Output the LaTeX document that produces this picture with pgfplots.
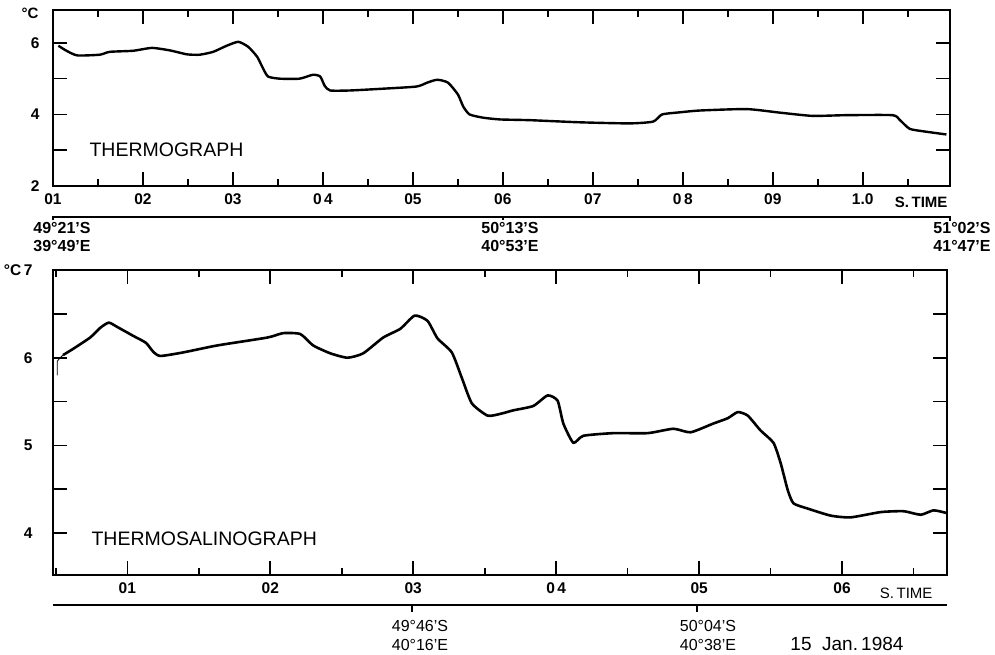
\documentclass[border=0pt]{standalone}
\usepackage{fontspec}
\setmainfont{Liberation Sans}
\usepackage{pgfplots}
\pgfplotsset{compat=1.18}
\pgfplotsset{
  rec/.style={
    scale only axis,
    axis line style={line width=1.7pt, black},
    tick align=inside,
    major tick length=14pt, minor tick length=7pt,
    every tick/.style={line width=1.6pt, black},
    /pgf/number format/assume math mode=true,
    xticklabel style={font=\fontsize{15.5}{17}\selectfont\bfseries, yshift=-4pt},
    yticklabel style={font=\fontsize{15.5}{17}\selectfont\bfseries, xshift=-10pt},
    xtick pos=both, ytick pos=both,
  }
}
\begin{document}
\begin{tikzpicture}[x=1pt,y=1pt]
\useasboundingbox (0,0) rectangle (995,655);
% ---------------- top: thermograph ----------------
\begin{axis}[rec,
  at={(53pt,469pt)}, anchor=south west,
  width=897pt, height=176pt,
  xmin=1, xmax=10.97, ymin=2, ymax=6.92,
  xtick={1,...,10},
  xticklabels={01,02,03,0\,4,05,06,07,0\,8,09,1.0},
  minor xtick={1.5,2.5,3.5,4.5,5.5,6.5,7.5,8.5,9.5,10.5},
  ytick={2,3,4,5,6}, yticklabels={2,,4,,6},
]
\addplot[black, line width=2.4pt, line join=round, smooth, tension=0.35] coordinates {
(1.06,5.92)(1.15,5.78)(1.27,5.65)(1.52,5.67)(1.63,5.75)(1.89,5.78)(2.1,5.86)
(2.3,5.79)(2.49,5.68)(2.63,5.67)(2.78,5.75)(2.93,5.92)(3.06,6.03)(3.17,5.89)
(3.27,5.61)(3.33,5.31)(3.39,5.06)(3.52,5.0)(3.74,5.0)(3.89,5.11)(3.97,5.06)
(4.02,4.8)(4.08,4.67)(4.3,4.67)(4.67,4.72)(5.04,4.78)(5.16,4.89)(5.27,4.97)
(5.39,4.89)(5.5,4.56)(5.56,4.22)(5.63,4.0)(5.78,3.91)(5.97,3.86)(6.3,3.84)
(6.86,3.78)(7.41,3.75)(7.67,3.8)(7.77,4.0)(7.97,4.06)(8.19,4.11)(8.71,4.15)
(9.08,4.05)(9.44,3.96)(9.82,3.98)(10.33,3.98)(10.41,3.85)(10.52,3.6)(10.67,3.53)
(10.93,3.44)};
\end{axis}
% ---------------- bottom: thermosalinograph ----------------
\begin{axis}[rec,
  at={(53pt,80pt)}, anchor=south west,
  width=894pt, height=305pt,
  xmin=0.48, xmax=6.734, ymin=3.523, ymax=7,
  xtick={1,...,6},
  xticklabels={01,02,03,0\,4,05,06},
  minor xtick={0.5,1.5,2.5,3.5,4.5,5.5,6.5},
  ytick={4,4.5,5,5.5,6,6.5,7}, yticklabels={4,,5,,6,,{°C\,7}},
  yticklabel style={xshift=-7pt},
  axis x line*=box,
]
\addplot[black, line width=0.8pt] coordinates {
(0.51,5.8)(0.51,5.96)(0.53,6.0)(0.55,6.03)};
\addplot[black, line width=2.6pt, line join=round, smooth, tension=0.35] coordinates {
(0.55,6.03)(0.62,6.1)(0.74,6.23)(0.81,6.34)(0.87,6.4)(0.93,6.35)(1.04,6.25)
(1.13,6.17)(1.18,6.07)(1.23,6.02)(1.39,6.06)(1.63,6.14)(1.98,6.23)(2.09,6.28)
(2.21,6.27)(2.30,6.14)(2.42,6.05)(2.54,6.0)(2.65,6.05)(2.79,6.23)(2.91,6.33)
(3.01,6.48)(3.1,6.42)(3.17,6.22)(3.27,6.06)(3.34,5.77)(3.41,5.48)(3.52,5.34)
(3.61,5.36)(3.70,5.40)(3.84,5.45)(3.94,5.57)(4.01,5.51)(4.05,5.25)(4.12,5.03)
(4.19,5.11)(4.40,5.14)(4.64,5.14)(4.82,5.19)(4.94,5.15)(5.10,5.25)(5.20,5.31)
(5.27,5.38)(5.34,5.34)(5.43,5.17)(5.52,5.03)(5.57,4.80)(5.62,4.49)(5.66,4.34)
(5.76,4.28)(5.92,4.20)(6.06,4.18)(6.27,4.24)(6.43,4.25)(6.55,4.21)(6.64,4.26)
(6.73,4.23)};
\end{axis}
% thicker bottom frame of lower chart
\draw[line width=2.6pt] (53,80) -- (947,80);
% ---------------- annotations ----------------
\node[font=\fontsize{15}{17}\selectfont\bfseries] at (30,642) {°C};
\node[anchor=west, font=\fontsize{19.5}{22}\selectfont] at (86,505) {THERMOGRAPH};
\node[anchor=west, font=\fontsize{19.5}{22}\selectfont] at (88,116) {THERMOSALINOGRAPH};
\node[anchor=east, font=\fontsize{15}{17}\selectfont\bfseries] at (951,453) {S.\,TIME};
\node[anchor=east, font=\fontsize{15}{17}\selectfont] at (936,62) {S.\,TIME};
% top position line
\draw[line width=1.8pt] (53,435) -- (53,438) -- (950,438) -- (950,434);
\draw[line width=1.2pt] (503,438) -- (503,435);
\begin{scope}[font=\fontsize{16}{18}\selectfont\bfseries]
\node at (62,427) {49°21'S};
\node at (62,409) {39°49'E};
\node at (510,427) {50°13'S};
\node at (510,409) {40°53'E};
\node at (962,427) {51°02'S};
\node at (962,409) {41°47'E};
\end{scope}
% bottom position line
\draw[line width=2.4pt] (53,50) -- (947,50);
\draw[line width=1.2pt] (412,50) -- (412,43);
\draw[line width=1.2pt] (697,50) -- (697,43);
\begin{scope}[font=\fontsize{16}{18}\selectfont]
\node at (420,29) {49°46'S};
\node at (420,10) {40°16'E};
\node at (708,29) {50°04'S};
\node at (708,10) {40°38'E};
\end{scope}
\node[font=\fontsize{19}{21}\selectfont] at (847,11) {15\ \ Jan.\,1984};
\end{tikzpicture}
\end{document}
